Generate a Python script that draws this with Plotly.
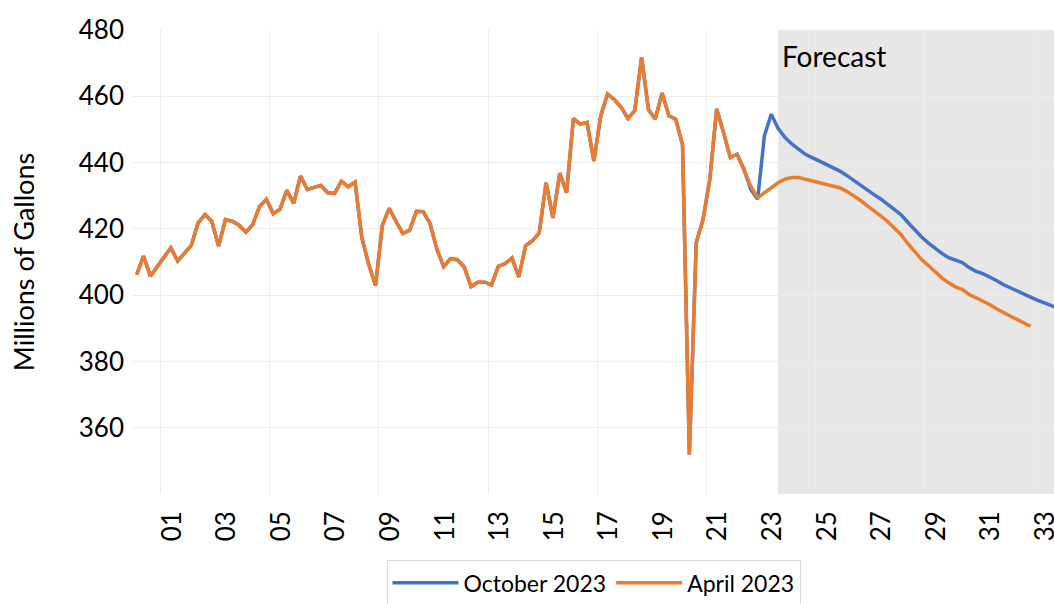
import plotly.graph_objects as go

# Quarterly gasoline consumption, millions of gallons, starting 2000 Q1
history = [
    406.2, 411.8, 405.7, 408.6, 411.4, 414.3, 410.3, 412.8, 415.0, 421.8,
    424.3, 422.3, 414.8, 422.8, 422.3, 421.1, 419.0, 421.3, 426.7, 428.9,
    424.6, 425.9, 431.6, 427.7, 435.9, 431.9, 432.4, 433.1, 430.9, 430.7,
    434.4, 432.7, 434.1, 417.3, 409.3, 402.9, 421.0, 426.2, 422.3, 418.6,
    419.6, 425.3, 425.2, 421.6, 413.8, 408.6, 411.0, 410.7, 408.5, 402.6,
    403.9, 403.9, 403.1, 408.7, 409.5, 411.2, 405.5, 414.9, 416.4, 418.8,
    433.9, 423.3, 436.8, 430.9, 453.3, 451.6, 452.1, 440.5, 454.0, 460.7,
    459.0, 456.7, 453.3, 455.7, 471.8, 456.0, 453.1, 461.0, 454.1, 453.1,
    445.3, 351.9, 415.8, 422.8, 435.0, 456.2, 449.1, 441.5, 442.5, 438.0,
]

october_2023_tail = [
    431.9, 428.9, 448.1, 454.6, 450.3, 447.6, 445.6, 444.0, 442.5, 441.5,
    440.5, 439.5, 438.5, 437.5, 436.2, 434.7, 433.1, 431.7, 430.4, 429.1,
    427.4, 425.9, 424.3, 422.0, 419.6, 417.6, 415.8, 414.1, 412.6, 411.3,
    410.5, 409.8, 408.3, 407.2, 406.5, 405.5, 404.4, 403.2, 402.2, 401.2,
    400.2, 399.4, 398.5, 397.7, 396.9, 396.1,
]

april_2023_tail = [
    432.9, 429.4, 430.9, 432.6, 433.9, 435.0, 435.5, 435.5, 435.0, 434.4,
    433.9, 433.6, 433.1, 432.4, 431.4, 430.1, 428.7, 427.1, 425.7, 424.0,
    422.3, 420.4, 418.3, 415.6, 413.0, 410.8, 409.0, 407.1, 405.2, 403.7,
    402.5, 401.7, 400.2, 399.2, 398.2, 397.2, 395.9, 394.7, 393.7, 392.7,
    391.7, 390.6,
]

start_year = 2000
label_years = list(range(2001, 2034, 2))
tick_labels = [f"{y % 100:02d}" for y in label_years]
forecast_start = 2023.49
series_names = ["October 2023", "April 2023"]
colors = ["#4472C4", "#E97C30"]

october = history + october_2023_tail
april = history + april_2023_tail


def quarters(values):
    return [start_year + i / 4 for i in range(len(values))]


FONT = "Lato"
W, H = 1054, 604

fig = go.Figure()
for name, vals, col in zip(series_names, [october, april], colors):
    fig.add_trace(go.Scatter(
        x=quarters(vals), y=vals, mode="lines", name=name,
        line=dict(color=col, width=3.5),
    ))

x_range = [1999.864, 2033.61]

fig.add_shape(
    type="rect", xref="x", yref="paper", x0=forecast_start, x1=x_range[1] + 1,
    y0=0, y1=1, fillcolor="#e7e7e7", line=dict(width=0), layer="below",
)
fig.add_annotation(
    x=forecast_start, y=0.944, xref="x", yref="paper", text="Forecast",
    showarrow=False, xanchor="left", yanchor="middle", xshift=2,
    font=dict(family=FONT, size=28, color="#000000"),
)

fig.update_layout(
    width=W, height=H,
    margin=dict(l=133, r=0, t=30, b=110, autoexpand=False),
    plot_bgcolor="white", paper_bgcolor="white",
    font=dict(family=FONT, size=26, color="#000000"),
    showlegend=True,
    legend=dict(
        orientation="h", x=0.5, xanchor="center", y=-0.143, yanchor="top",
        bordercolor="#d9d9d9", borderwidth=1, font=dict(family=FONT, size=23),
        itemwidth=66,
    ),
)

fig.update_xaxes(
    range=x_range,
    tickmode="array",
    tickvals=[y + 0.3 for y in label_years],
    ticktext=tick_labels,
    tickangle=-90,
    showgrid=False,
    zeroline=False,
    showline=False,
    ticks="",
    automargin=False,
    ticklabelstandoff=11,
    ticklabeloverflow="allow",
    tickfont=dict(family=FONT, size=26),
    minor=dict(
        tickmode="array",
        tickvals=[y - 0.125 for y in range(2001, 2034, 4)],
        showgrid=True, gridcolor="#ececec", gridwidth=1, ticks="",
    ),
)

fig.update_yaxes(
    range=[340, 480],
    tickmode="array",
    tickvals=list(range(360, 481, 20)),
    showgrid=True, gridcolor="#ececec", gridwidth=1,
    zeroline=False, showline=False, ticks="",
    automargin=False,
    ticklabelstandoff=8,
    tickfont=dict(family=FONT, size=26),
    title=dict(text="Millions of Gallons", font=dict(family=FONT, size=27), standoff=36),
)

# remove the browser's default 8px body margin so the figure fills the window
post = (
    "document.body.style.margin='0';"
    "document.body.style.overflow='hidden';"
    "var gd=document.getElementById('{plot_id}');"
    f"Plotly.relayout(gd,{{width:{W},height:{H}}});"
)

fig.write_html("out.html", post_script=post, config={"displayModeBar": False})
